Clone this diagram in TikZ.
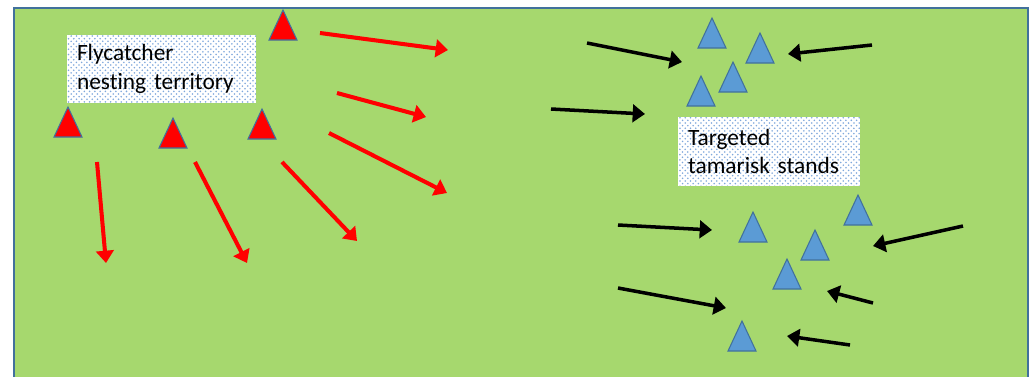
\documentclass[tikz,border=0pt]{standalone}
\usepackage{fontspec}
\setmainfont[Ligatures=NoCommon]{Carlito}
\usetikzlibrary{arrows.meta, patterns}
\definecolor{meadow}{HTML}{A6D86E}
\definecolor{edgeblue}{HTML}{41719C}
\definecolor{tamblue}{HTML}{5B9BD5}
\definecolor{dotblue}{HTML}{7FA8DC}

\begin{document}
\begin{tikzpicture}[
    x=0.02cm, y=-0.02cm,
    notebox/.style={rectangle, fill=white, postaction={pattern=crosshatch dots, pattern color=dotblue}, inner xsep=0.2cm, inner ysep=0pt, align=left, minimum height=1.37cm, font=\fontsize{13.3}{16.3}\selectfont},
    nest/.style={draw=edgeblue, fill=red, line width=0.6pt},
    tamarisk/.style={draw=edgeblue, fill=tamblue, line width=0.6pt},
    redarrow/.style={-{Triangle[length=7pt,width=10pt]}, line width=2.3pt, red},
    blackarrow/.style={-{Triangle[length=7pt,width=10pt]}, line width=2pt, black}
]

\clip (0,0) rectangle (1030,376);
\fill[meadow, draw=edgeblue, line width=0.8pt] (14,8) rectangle (1028,390);

% Flycatcher side
\node[notebox, text width=3.38cm] (flyzone) at (161.5,69) {Flycatcher\\nesting territory};

\foreach \x/\y in {283/10, 68/107, 173/118, 262/109}
  \draw[nest] (\x,\y) -- ++(-14,30) -- ++(28,0) -- cycle;

\foreach \a/\b/\c/\d in {97/162/106/263, 195/162/247/263, 282/162/357/241,
                         329/133/447/193, 337/93/426/117, 320/33/448/50}
  \draw[redarrow] (\a,\b) -- (\c,\d);

% Tamarisk side
\node[notebox, text width=3.24cm] (tamzone) at (769,151.5) {Targeted\\tamarisk stands};

\foreach \x/\y in {712/18, 760/33, 733/62, 701/76,
                   753/212, 858/195, 815/230, 787/259, 742/321}
  \draw[tamarisk] (\x,\y) -- ++(-14,30) -- ++(28,0) -- cycle;

\foreach \a/\b/\c/\d in {587/43/682/62, 872/45/788/54, 551/109/645/114,
                         618/225/712/230, 963/226/873/246, 618/288/726/308,
                         873/303/827/291, 850/345/787/336}
  \draw[blackarrow] (\a,\b) -- (\c,\d);

\end{tikzpicture}
\end{document}
